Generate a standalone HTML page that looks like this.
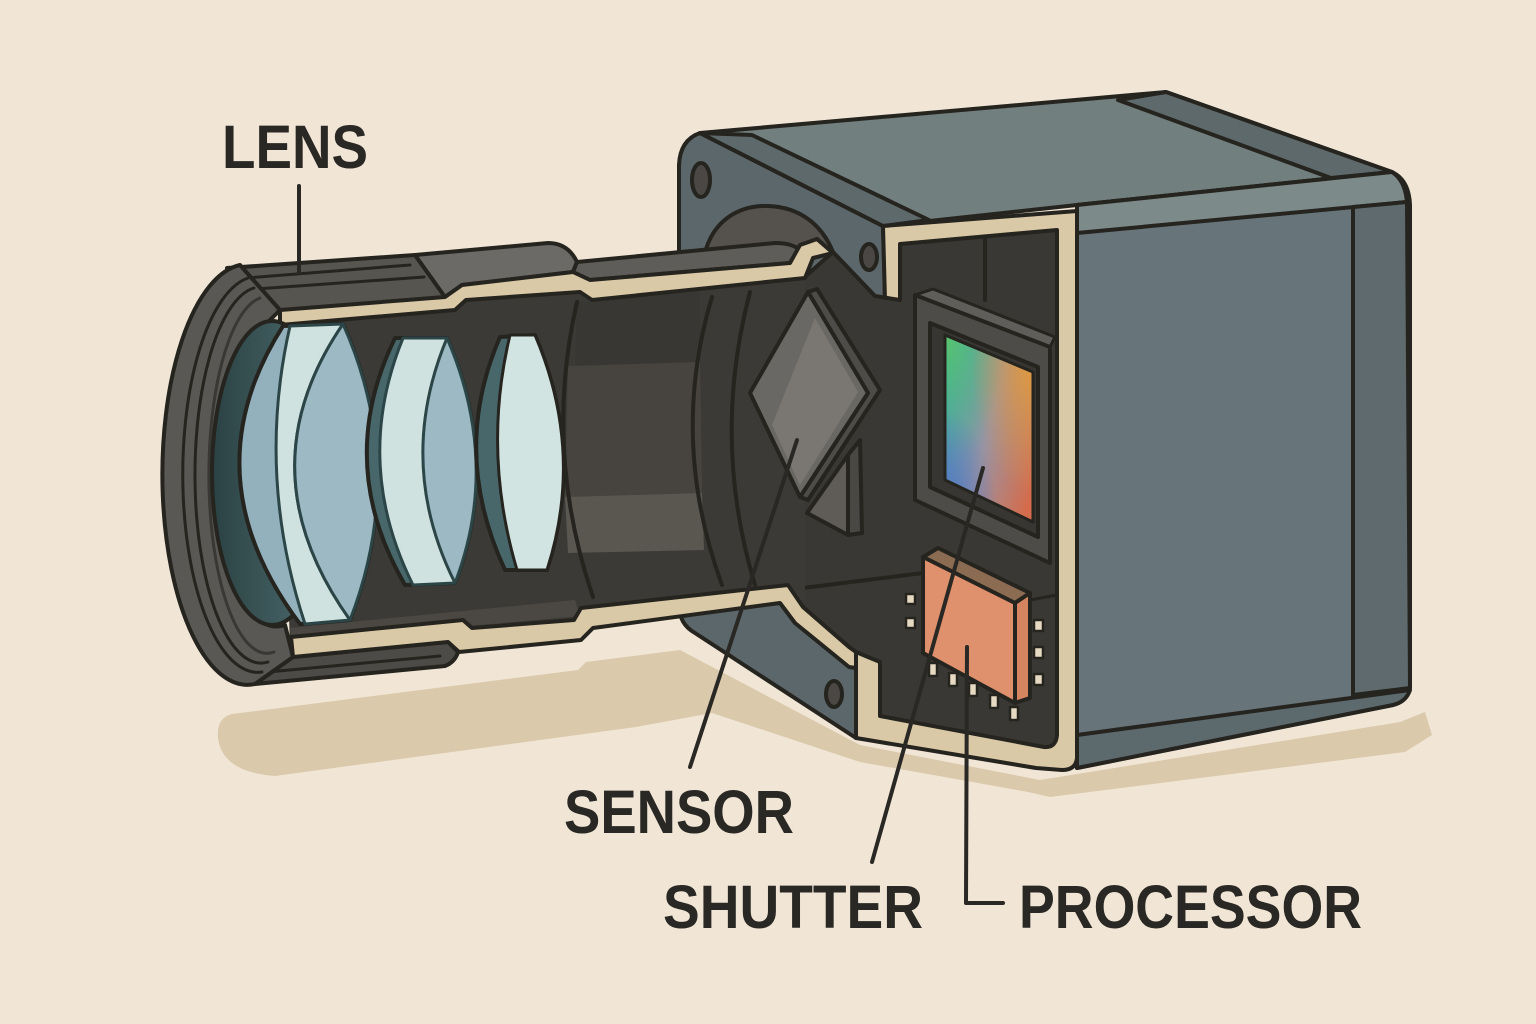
<!DOCTYPE html>
<html><head><meta charset="utf-8"><style>
html,body{margin:0;padding:0;background:#f1e6d6;}
svg{display:block;}
text{font-family:"Liberation Sans",Arial,sans-serif;font-weight:bold;fill:#2a2824;}
</style></head><body>
<svg width="1536" height="1024" viewBox="0 0 1536 1024" xmlns="http://www.w3.org/2000/svg">
<defs>
<linearGradient id="open" x1="0" y1="0" x2="1" y2="0"><stop offset="0" stop-color="#2b4244"/><stop offset="1" stop-color="#4f6e70"/></linearGradient>
<linearGradient id="sbase" x1="0" y1="0.2" x2="1" y2="0.8"><stop offset="0" stop-color="#2f9fbd"/><stop offset="0.5" stop-color="#9a94a2"/><stop offset="1" stop-color="#d46c4c"/></linearGradient>
<radialGradient id="sg" cx="0" cy="0" r="0.7"><stop offset="0" stop-color="#5cc46a"/><stop offset="1" stop-color="#5cc46a" stop-opacity="0"/></radialGradient>
<radialGradient id="so" cx="1" cy="0.15" r="0.7"><stop offset="0" stop-color="#e09a3e"/><stop offset="1" stop-color="#e09a3e" stop-opacity="0"/></radialGradient>
<radialGradient id="sb" cx="0" cy="1" r="0.6"><stop offset="0" stop-color="#4a72c6"/><stop offset="1" stop-color="#4a72c6" stop-opacity="0"/></radialGradient>
</defs>
<g stroke-linejoin="round" stroke-linecap="round">
<!-- background -->
<rect width="1536" height="1024" fill="#f1e6d6"/>
<!-- shadow -->
<path d="M232,714 L578,670 L586,662 L680,650 L860,745 L1040,780 L1400,722 L1425,712 L1432,735 L1405,752 L1050,797 L1028,792 L860,762 L712,713 L636,727 L275,776 Q222,772 218,738 Q216,718 232,714 Z" fill="#dac9aa"/>

<!-- flange plate -->
<path d="M679,165 Q680,140 700,133 L883,226 L885,300 L856,650 L856,738 L695,633 Q679,624 679,605 Z" fill="#5b676a" stroke="#26241f" stroke-width="4"/>
<ellipse cx="701" cy="180" rx="9" ry="17" fill="#4a4744" stroke="#26241f" stroke-width="4"/>
<ellipse cx="869" cy="257" rx="8" ry="13" fill="#4a4744" stroke="#26241f" stroke-width="4"/>
<ellipse cx="834" cy="694" rx="8" ry="13" fill="#4a4744" stroke="#26241f" stroke-width="4"/>
<!-- mount ring top arc -->
<path d="M703,262 C710,218 742,205 768,206 C800,207 822,225 833,252 L703,268 Z" fill="#55514c" stroke="#26241f" stroke-width="4"/>

<!-- top face -->
<path d="M700,133 L1166,92 L1392,172 L1077,205 L883,226 Z" fill="#717f7f" stroke="#26241f" stroke-width="4"/>
<path d="M700,133 L752,135 L929,220 L883,226 Z" fill="#5d696b" stroke="#26241f" stroke-width="4"/>
<path d="M1118,100 L1166,92 L1392,172 L1331,178 Z" fill="#5d696b" stroke="#26241f" stroke-width="4"/>

<!-- front side face -->
<path d="M1077,205 L1392,172 Q1409,180 1410,205 L1410,684 Q1408,701 1393,705 L1077,768 Z" fill="#67757a" stroke="#26241f" stroke-width="4"/>
<path d="M1077,205 L1392,172 Q1405,180 1407,202 L1077,233 Z" fill="#7d8a8a" stroke="#26241f" stroke-width="4"/>
<path d="M1353,207 L1407,202 L1410,688 L1353,695 Z" fill="#5e6a6e" stroke="#26241f" stroke-width="4"/>
<path d="M1077,735 L1410,690 Q1406,702 1393,705 L1077,768 Z" fill="#5c696d" stroke="#26241f" stroke-width="4"/>

<!-- body cream cut -->
<path d="M883,226 L1077,211 L1077,758 Q1076,770 1062,770 L1036,768 L856,738 L856,650 L900,650 L900,300 L885,300 Z" fill="#dac9a6" stroke="#26241f" stroke-width="4"/>
<!-- cavity -->
<path d="M790,290 L833,252 L875,296 L900,300 L900,244 L1057,230 L1057,735 Q1056,748 1044,747 L880,716 L880,662 L856,652 L849,647 L803,607 L790,590 Z" fill="#3a3834" stroke="#26241f" stroke-width="4"/>
<line x1="985" y1="240" x2="985" y2="300" stroke="#26241f" stroke-width="4"/>
<line x1="803" y1="588" x2="923" y2="573" stroke="#26241f" stroke-width="4"/>
<line x1="1030" y1="600" x2="1057" y2="595" stroke="#26241f" stroke-width="3"/>

<!-- lens interior -->
<path d="M280,318 L805,266 L805,600 L290,648 Z" fill="#3c3a36"/>
<path d="M577,302 L700,292 L700,362 L575,366 Z" fill="#393733"/>
<path d="M568,366 L700,362 L702,493 L565,497 Z" fill="#47443f"/>
<path d="M565,497 L702,493 L704,550 L568,553 Z" fill="#5a5751"/>
<path d="M290,628 L575,600 L580,616 L292,642 Z" fill="#4b4844"/>
<path d="M577,302 Q543,450 593,597" fill="none" stroke="#26241f" stroke-width="4"/>
<path d="M712,297 Q669,440 722,585" fill="none" stroke="#26241f" stroke-width="4"/>
<path d="M750,292 Q711,440 755,585" fill="none" stroke="#26241f" stroke-width="4"/>

<!-- upper barrel exterior -->
<path d="M227,268 L415,255 L445,297 L280,312 Z" fill="#575550" stroke="#26241f" stroke-width="4"/>
<path d="M415,255 L548,243 Q568,243 577,262 L573,272 L462,285 L445,297 Z" fill="#6c6a66" stroke="#26241f" stroke-width="4"/>
<path d="M577,262 L775,243 Q792,243 800,250 L800,262 L790,263 L590,280 L573,272 Z" fill="#5f5d59" stroke="#26241f" stroke-width="4"/>
<path d="M234,279 L410,265 M242,290 L424,277" stroke="#26241f" stroke-width="3" fill="none"/>
<!-- lower barrel exterior -->
<path d="M255,684 L445,666 Q455,662 458,652 L448,642 L293,657 Z" fill="#4d4b47" stroke="#26241f" stroke-width="4"/>
<path d="M268,672 L440,656" stroke="#26241f" stroke-width="3"/>

<!-- cream strips -->
<path d="M280,310 L445,297 L462,285 L573,272 L590,280 L790,263 L800,245 L817,239 L833,253 L813,258 L805,278 L592,300 L580,292 L466,300 L455,310 L280,325 Z" fill="#dac9a6" stroke="#26241f" stroke-width="4"/>
<path d="M291,637 L463,620 L472,628 L574,620 L581,608 L788,585 L803,607 L849,647 L856,652 L856,668 L849,667 L795,623 L780,603 L593,628 L581,640 L459,652 L448,642 L293,657 Z" fill="#dac9a6" stroke="#26241f" stroke-width="4"/>

<!-- front ring -->
<path d="M240,265 A85,210 0 0 0 255,684 L293,657 L285,625 A60,152 0 0 1 268,322 L280,310 Z" fill="#5a5854" stroke="#26241f" stroke-width="4"/>
<path d="M248,278 A75,198 0 0 0 262,672" fill="none" stroke="#26241f" stroke-width="3"/>
<path d="M254,288 A66,188 0 0 0 268,662" fill="none" stroke="#26241f" stroke-width="3"/>
<path d="M260,298 A58,178 0 0 0 274,652" fill="none" stroke="#3a3834" stroke-width="3"/>
<ellipse cx="272" cy="473" rx="60" ry="152" fill="url(#open)" stroke="#26241f" stroke-width="4"/>

<!-- lens 1 -->
<path d="M283,326 L343,324 Q408,470 350,620 L300,624 Q188,475 283,326 Z" fill="#93b1bc" stroke="#26241f" stroke-width="4"/>
<path d="M290,326 L343,324 Q243,470 350,620 L305,624 Q256,475 290,326 Z" fill="#cfe2e0" stroke="#2c4547" stroke-width="3"/>
<path d="M343,324 Q243,470 350,620 Q408,470 343,324 Z" fill="#9cb9c4" stroke="#2c4547" stroke-width="3"/>
<!-- lens 2 -->
<path d="M395,338 Q334,463 405,585 L455,583 Q501,463 447,338 Z" fill="#47676a" stroke="#26241f" stroke-width="4"/>
<path d="M403,338 L447,338 Q501,463 455,583 L413,585 Q352,463 403,338 Z" fill="#cfe2e0" stroke="#2c4547" stroke-width="3"/>
<path d="M447,338 Q395,463 455,583 Q501,463 447,338 Z" fill="#9cb9c4" stroke="#2c4547" stroke-width="3"/>
<!-- lens 3 -->
<path d="M500,337 Q450,452 505,570 L547,570 Q585,452 535,335 Z" fill="#47676a" stroke="#26241f" stroke-width="4"/>
<path d="M510,335 L535,335 Q585,452 547,570 L517,570 Q482,452 510,335 Z" fill="#d2e4e1" stroke="#26241f" stroke-width="3"/>

<!-- mirror / diamond -->
<path d="M808,292 L817,289 L880,390 L808,500 L800,497 L868,393 Z" fill="#4e4c48" stroke="#26241f" stroke-width="4"/>
<path d="M808,292 L868,393 L800,497 L750,393 Z" fill="#6a6864" stroke="#26241f" stroke-width="4"/>
<path d="M815,318 L858,392 L800,485 L772,425 Z" fill="#7a7773"/>
<path d="M848,455 L860,440 L862,533 L848,535 Z" fill="#4a4845" stroke="#26241f" stroke-width="4"/>
<path d="M807,513 L848,455 L848,535 Z" fill="#5f5c58" stroke="#26241f" stroke-width="4"/>

<!-- sensor -->
<path d="M915,295 L933,289 L1055,337 L1050,347 Z" fill="#5f5e5b" stroke="#26241f" stroke-width="3"/>
<path d="M915,295 L1050,347 L1050,563 L915,500 Z" fill="#4d4c49" stroke="#26241f" stroke-width="4"/>
<path d="M930,323 L1038,367 L1038,537 L930,487 Z" fill="#373633" stroke="#26241f" stroke-width="4"/>
<path d="M945,335 L1033,372 L1033,522 L945,480 Z" fill="url(#sbase)"/>
<path d="M945,335 L1033,372 L1033,522 L945,480 Z" fill="url(#sg)"/>
<path d="M945,335 L1033,372 L1033,522 L945,480 Z" fill="url(#so)"/>
<path d="M945,335 L1033,372 L1033,522 L945,480 Z" fill="url(#sb)" stroke="#26241f" stroke-width="3"/>

<!-- processor pins -->
<g fill="#e6dac2" stroke="#26241f" stroke-width="2.5">
<rect x="906" y="594" width="9" height="10"/><rect x="906" y="618" width="9" height="10"/>
<rect x="1034" y="620" width="9" height="11"/><rect x="1034" y="647" width="9" height="11"/><rect x="1034" y="674" width="9" height="11"/>
<rect x="929" y="663" width="8" height="13"/><rect x="949" y="673" width="8" height="13"/><rect x="969" y="683" width="8" height="13"/><rect x="990" y="695" width="8" height="13"/><rect x="1010" y="707" width="8" height="13"/>
</g>
<!-- processor -->
<path d="M923,557 L938,548 L1030,593 L1015,603 Z" fill="#8b6b51" stroke="#26241f" stroke-width="4"/>
<path d="M1015,603 L1030,593 L1030,698 L1015,703 Z" fill="#d4845f" stroke="#26241f" stroke-width="4"/>
<path d="M923,557 L1015,603 L1015,703 L923,653 Z" fill="#de916c" stroke="#26241f" stroke-width="4"/>

<!-- leader lines -->
<g stroke="#2a2824" stroke-width="4" fill="none">
<line x1="299" y1="186" x2="299" y2="273"/>
<line x1="797" y1="440" x2="690" y2="767"/>
<line x1="983" y1="468" x2="872" y2="862"/>
<polyline points="967,647 966,903 1003,903"/>
</g>
</g>

<!-- labels -->
<text x="222" y="168" font-size="61" textLength="146" lengthAdjust="spacingAndGlyphs">LENS</text>
<text x="564" y="833" font-size="61" textLength="230" lengthAdjust="spacingAndGlyphs">SENSOR</text>
<text x="663" y="928" font-size="61" textLength="260" lengthAdjust="spacingAndGlyphs">SHUTTER</text>
<text x="1019" y="928" font-size="61" textLength="343" lengthAdjust="spacingAndGlyphs">PROCESSOR</text>
</svg>
</body></html>
